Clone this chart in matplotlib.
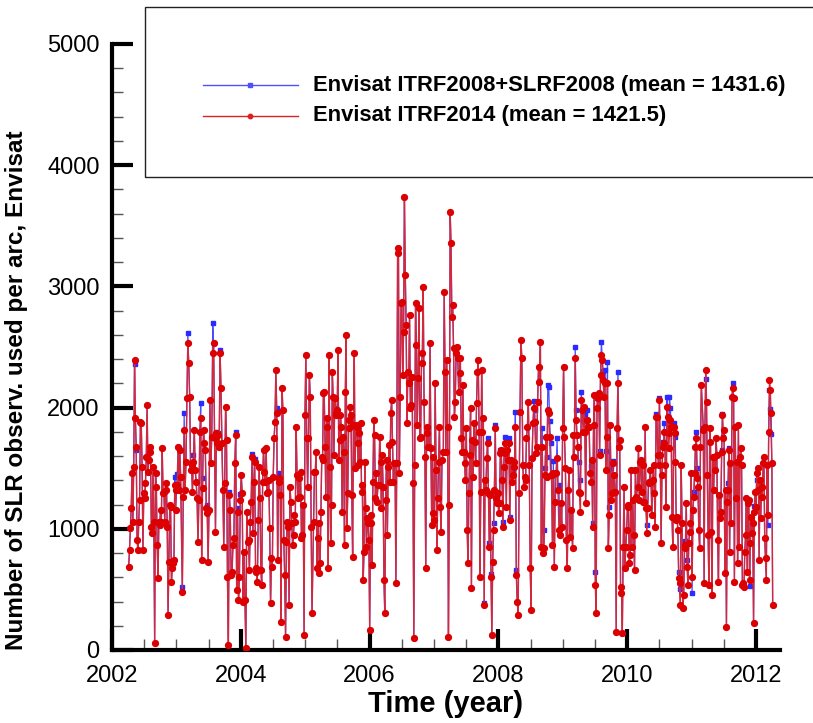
import numpy as np
import matplotlib
matplotlib.use("Agg")
import matplotlib.pyplot as plt
from matplotlib.lines import Line2D
from matplotlib.patches import Rectangle
from matplotlib.ticker import MultipleLocator

# ---- data: observations per arc; a tuple means (ITRF2014, ITRF2008+SLRF2008) ----
seg_start = [2002.259, 2003.092, 2004.065, 2005.131, 2006.130, 2007.145, 2008.134, 2009.152, 2010.162, 2011.182]
seg_end   = [2003.066, 2004.050, 2005.106, 2006.115, 2007.124, 2008.123, 2009.127, 2010.141, 2011.151, 2012.259]

seg_2002 = [688, 825, 1004, 1169, 1458, 1059, 1513, (2393, 2360), 1911, (1678, 1650), 908, 825, 1059, 1238, 1884,
            1870, 1513, 825, 1293, 1251, 1375, 1595, 2021, 1471, 1568, 1678, 1636, 1018, 963, 1513, 1059, 55,
            1458, 1348, 866, 591, 1059, 1031, 1155, 1059, 1664, 1293, 1306, 1059, 1320, 1375, 1018, 289, 729,
            1196, 1183, 564, 674, 715, 743, (1361, 1430), 1155, 1320, (1361, 1450), 1678, 1320, 1650, 1430]
seg_2003 = [(481, 516), 1265, (1815, 1952), 1320, 1554, 2076, (2530, 2613), 2365, 2090, 1485, 1526, 1306,
            (1554, 1609), 1815, 1485, 1389, 1251, 894, 1238, 1801, (1911, 2041), 743, (1334, 1420), 1815, 1705,
            1650, 1169, (1128, 1196), 729, 1155, 2063, 1540, 1760, (2448, 2695), 2530, 1746, 976, (1787, 1801),
            1705, (1774, 1790), 1678, (2448, 2475), 2159, 1705, 1320, 853, 1375, 2008, 1733, 605, 41, (1279, 1300),
            1155, 619, 646, 866, 921, 1540, (1774, 1801), 495, (1141, 1170), 413, 605, (1238, 1290), 1444, 1293,
            399, 811]
seg_2004 = [413, 14, 1141, 894, 908, 660, 1059, 1224, (1595, 1620), 963, 1389, (1554, 1580), 646, 674, 564,
            1073, 1513, 1251, 660, 536, 1389, 1650, 1471, 1389, 1664, 1293, 1306, 1403, 1004, 385, 756, 688,
            1430, 1746, 1884, 2310, (1952, 1993), 743, 1389, (1416, 1460), 1279, 234, 2159, 1980, 908, 619, 110,
            894, 1059, 1018, 371, 1348, 1224, 1045, 866, 949, 1114, 1059, 1843, 1444, 1251, 1416, 1265, 1471,
            921, 949, 1196, 124, 1939, 2434, 1746, 1348, 1746, 2269, 2090, 1018, 303]
seg_2005 = [1059, 1471, 1471, 1636, 674, 921, 1045, 633, 715, 1141, 1595, 1568, 2118, 2131, 1678, 1265, 1911,
            1843, 674, 2434, 1513, 880, 1196, 2296, 2090, 1609, 2076, (1952, 2000), 1939, 1980, 2475, 1568,
            1733, 1939, 1843, 1141, 1760, 1636, 866, 2131, 2599, 1004, 1293, 1829, 1898, 2008, 1939, 1279, 770,
            1856, 2448, 1499, 1856, 1843, 1705, 1526, 1787, 1554, 1870, 1306, 1361, 578, 811, 1554, 1169, 853,
            1086, 1045, 908, 165, 1045, 1114, 701, 1389, 1898, 1774, 1251, 1458, 1224]
seg_2006 = [1361, 1361, 1760, 1554, 1169, 1609, 1348, 578, 303, 1238, 1568, 949, 1513, 1691, 1389, 1952, 2063,
            1719, 1389, 1540, 1540, 550, 1540, 3273, 3314, 1458, 2090, 2860, 2874, 2269, 2626, 3740, 3094, 2681,
            1870, 2296, 2200, 2764, 1994, 2021, 2255, 1375, 96, 1526, 2860, 2516, 1856, 2241, 2819, 1746, 1760,
            2365, 2448, 2998, 2049, 1595, 674, 1843, 1787, 1678, 1678, 2530, 1664, 1031, 1595, 1128, 1073, 2200,
            1485, 825, 1251, 1554, 1843, 1183, 976, 1568]
seg_2007 = [1636, 2957, 2296, 1636, 2393, 1843, 110, 1196, 3616, 3355, 2750, 2846, 2489, 1925, 2049, 2448, 2503,
            2406, 2131, 2282, 2406, 1746, 1636, 2186, 1636, 1540, 1403, 1829, 990, 715, 1293, 1609, 1994, 509,
            1733, 1430, 1870, 1719, 1540, 2035, 2296, 2393, 1801, 605, 1306, 2310, 1801, 1911, (371, 390), 1403,
            1320, 1581, (1705, 1746), 1293, (853, 880), 1279, (605, 630), 124, 729, (990, 1050), 1320, (1829, 1860),
            1251, (1210, 1300), 1293, 1128, 1210, (1623, 1650), 1650, 1403, (1018, 1060), 1513, (1705, 1760), 1623,
            1183]
seg_2008 = [1650, 1568, (1705, 1750), (1073, 1100), 1568, (1389, 1480), 1444, 1554, 1513, (1843, 1966), (619, 660),
            399, 289, 1293, 1966, 2558, 2406, 1526, 1348, 1430, 1403, 1746, 1843, 2049, 1526, 674, 330, 1581,
            1870, (1994, 2057), (1884, 1980), 1623, 1678, 2049, 2338, 2214, 2544, 853, (1678, 1829), 798, (839, 990),
            (1444, 1500), 1760, (1430, 1590), (1980, 2186), (1952, 2170), (1760, 1890), (1444, 1705), 1444, 866,
            (1458, 1560), 688, (1224, 1450), 1458, (1581, 1746), 1320, (990, 1360), 949, 1210, 1018, 1829, 2338,
            1760, 1499, 908, 674, 1320, 1485, 935, 1155]
seg_2009 = [839, 1774, 1595, (2406, 2503), (1898, 1980), 1774, 1678, (1306, 1554), 1293, (1141, 1400), (2063, 2131),
            1980, (1801, 1900), 2008, (1801, 1950), 1210, (1898, 1980), 1898, 1843, 1843, 1458, (1389, 1520), 1568,
            (1018, 1050), 1856, 2104, (536, 646), 303, (1994, 2080), 2076, 2118, (1609, 1640), 2269, (2434, 2544),
            2393, (2228, 2300), 2090, (2200, 2310), (1485, 1640), 1760, (2200, 2380), 839, (1114, 1180), 1856,
            (1238, 1500), 1293, (1540, 1560), 1306, 1444, 1306, 151, 1829, (2200, 2296), 1678, 1733, 468, 523,
            138, 853, 1348, 674, 853, 990, 1196, 1183, 715, 784, 1485, 853, 1238, 949, 660, 1485, 1265]
seg_2010 = [1348, 1664, 1238, 1554, 1568, 1306, 1526, 1224, 1224, 1843, 1169, (963, 1030), 1169, 1375, 1389,
            1485, 1389, 1114, 1403, 1526, 1293, 1018, (1925, 1950), 1925, 1609, 1526, (2063, 2080), 1609, 880,
            1444, (1678, 1720), 1705, (1801, 1870), 1526, 1183, (2008, 2090), 1925, 1664, (1787, 2090), (1898, 2000),
            1843, 1100, 853, (1843, 1870), 1787, (1554, 1760), 1073, 1100, 990, (591, 640), 550, (371, 500), 1526,
            1045, 344, 454, (866, 900), 839, 1216, (688, 740), 536, 880, 976, 1045, 1458, (605, 468), 1155,
            (1265, 1300), 1458, 1678, (1746, 1800), (1416, 1500), 1348, 990, 839, 1678, 2186]
seg_2011 = [(1815, 1830), 550, 1843, (2310, 2233), 2049, 1444, 949, 536, 1829, 1719, 976, 454, 1595, 1320, 1595,
            1485, 1746, 1609, 908, 564, 1279, 1086, 1141, (1636, 1650), (1939, 1950), (1746, 1760), 1815, 633,
            1320, 193, 1224, (1320, 1380), (1650, 1670), 811, 1540, 1045, 2090, (2159, 2200), 2076, 564, 1843,
            1251, 1554, 715, 1856, 853, 1595, 1664, 1526, 536, 550, 523, 811, 949, 1251, 646, 1210, 1238,
            (578, 530), 880, 1100, 963, 1045, 220, (1141, 1190), 1306, 1183, (1458, 1400), 1320, 1499, 743,
            (1403, 1380), 1086, 1348, 1265, 1540, 1595, 921, 756, 578, 1526, (1114, 1030), 1801, (2228, 2145),
            (2145, 1990), (1952, 1780), 1540, 371]

segments = [seg_2002, seg_2003, seg_2004, seg_2005, seg_2006, seg_2007, seg_2008, seg_2009, seg_2010, seg_2011]

label_blue = "Envisat ITRF2008+SLRF2008 (mean = 1431.6)"
label_red = "Envisat ITRF2014 (mean = 1421.5)"
x_ticks = [2002, 2004, 2006, 2008, 2010, 2012]
y_ticks = [0, 1000, 2000, 3000, 4000, 5000]

# ---- build series ----
t, red, blue = [], [], []
for s0, s1, seg in zip(seg_start, seg_end, segments):
    t.extend(np.linspace(s0, s1, len(seg)))
    for v in seg:
        if isinstance(v, tuple):
            red.append(v[0]); blue.append(v[1])
        else:
            red.append(v); blue.append(v)
t = np.array(t); red = np.array(red); blue = np.array(blue)

FONT = ['Liberation Sans', 'DejaVu Sans']
plt.rcParams['font.family'] = FONT

W, H = 813, 723
fig = plt.figure(figsize=(W / 100, H / 100), dpi=100)
x0, x1, y0, y1 = 112, 780, 650, 44
ax = fig.add_axes([x0 / W, (H - y0) / H, (x1 - x0) / W, (y0 - y1) / H])

BLUE = '#2b2bff'
RED = '#dd0000'
ax.plot(t, blue, color='#4a4aff', lw=0.9, zorder=2)
ax.plot(t, blue, ls='none', marker='s', ms=2.6, color=BLUE, zorder=2)
ax.plot(t, red, color='#d3283a', lw=1.0, zorder=3)
ax.plot(t, red, ls='none', marker='o', ms=4.2, color=RED, mec=RED, zorder=4)

ax.set_xlim(2002, 2002 + (x1 - x0) / 64.4)
ax.set_ylim(0, 5000)
for sp in ['top', 'right']:
    ax.spines[sp].set_visible(False)
for sp in ['left', 'bottom']:
    ax.spines[sp].set_linewidth(3)
ax.set_xticks(x_ticks)
ax.set_yticks(y_ticks)
ax.xaxis.set_minor_locator(MultipleLocator(0.5))
ax.yaxis.set_minor_locator(MultipleLocator(200))
ax.tick_params(which='major', direction='in', length=15, width=3, labelsize=17)
ax.tick_params(which='minor', direction='in', length=8, width=1, color='#555555')
ax.tick_params(axis='x', which='major', pad=11)
ax.tick_params(axis='y', which='major', pad=9)

ax.set_xlabel('Time (year)', fontsize=21, fontweight='bold', labelpad=2)
ax.set_ylabel('Number of SLR observ. used per arc, Envisat', fontsize=17.5, fontweight='bold')
ax.yaxis.set_label_coords(-(112 - 28) / (x1 - x0), (650 - 390) / (y0 - y1))

# ---- legend box ----
fig.add_artist(Rectangle((145 / W, (H - 177) / H), (W + 10 - 145) / W, (177 - 7) / H,
                         transform=fig.transFigure, fill=False, ec='#222222', lw=1.0, clip_on=False))
for yy, col, mk, ms, lab in [(85, '#5050ff', 's', 2.6, label_blue), (116, '#e02020', 'o', 3.2, label_red)]:
    fy = (H - yy) / H
    fig.add_artist(Line2D([203 / W, 298 / W], [fy, fy], transform=fig.transFigure, color=col, lw=1.0))
    fig.add_artist(Line2D([250 / W], [fy], transform=fig.transFigure, marker=mk, ms=ms, color=col, ls='none'))
    fig.text(313 / W, fy, lab, fontsize=15.8, fontweight='bold', va='center', ha='left')

fig.savefig('out.png', dpi=100)
